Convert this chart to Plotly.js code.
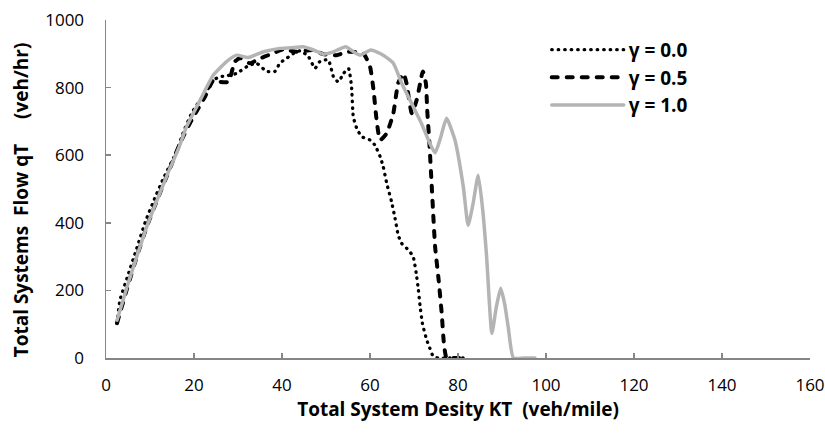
<!DOCTYPE html>
<html>
<head>
<meta charset="utf-8">
<script src="https://cdn.plot.ly/plotly-3.0.1.min.js"></script>
<style>html,body{margin:0;padding:0;background:#fff;}#chart{width:825px;height:435px;}</style>
</head>
<body>
<div id="chart"></div>
<script>
// Series names
const seriesNames = ["γ = 0.0", "γ = 0.5", "γ = 1.0"];

// γ = 0.0 (dotted)
const k00 = [2.5, 3.2, 5, 7, 9, 11, 13, 16, 17.5, 19.5, 21.5, 22.9, 24.4, 25.9, 27.5, 29.7, 32, 34.2, 36.5, 38.4, 39.5, 41.1, 42.6, 44.1, 46, 47.5, 48.6, 50.5, 51.7, 52.8, 54, 55.1, 55.8, 56.2, 57, 58.1, 60, 61.1, 62.3, 63, 63.8, 64.9, 65.7, 66.4, 67.2, 68.7, 69.8, 70.5, 71, 71.4, 71.9, 72.9, 73.6, 74.4, 75.5, 78, 81.8];
const q00 = [103, 172, 245, 325, 405, 470, 530, 610, 665, 725, 765, 790, 822, 832, 835, 842, 862, 872, 848, 848, 872, 887, 901, 909, 892, 857, 877, 882, 832, 817, 842, 857, 803, 714, 679, 655, 645, 630, 596, 566, 517, 462, 413, 364, 339, 320, 300, 251, 201, 152, 103, 53, 29, 4, 0, 0, 0];

// γ = 0.5 (dashed)
const k05 = [2.5, 5, 7, 9.3, 12, 14.5, 16.8, 19.5, 22.5, 24.4, 25.9, 27.8, 29.3, 30.5, 32.7, 34.8, 36.9, 40.3, 43.3, 47.1, 49.4, 52.4, 55.1, 58.5, 60, 60.8, 61.5, 62.3, 63.8, 65.3, 66.4, 67.6, 68.3, 69.5, 70.6, 71.4, 72, 72.7, 73, 73.5, 74, 74.8, 75.6, 76.3, 76.8, 77.4, 79, 81.5];
const q05 = [103, 215, 300, 390, 480, 560, 635, 705, 773, 822, 817, 817, 877, 887, 872, 885, 896, 913, 906, 911, 899, 896, 906, 901, 862, 793, 704, 645, 665, 724, 813, 842, 813, 724, 763, 813, 848, 813, 734, 635, 517, 329, 231, 132, 43, 0, 0, 0];

// γ = 1.0 (solid grey)
const k10 = [2.5, 5, 7, 9.3, 12, 14, 16.5, 18.3, 21.4, 24.4, 27.4, 29.7, 32.3, 35.8, 39.5, 42, 44.8, 47, 49.4, 51.5, 54.5, 56.2, 57.7, 60.2, 63, 65.3, 67.2, 69.1, 71.7, 73.6, 74.8, 76, 77.4, 79.3, 81.2, 82.3, 83.4, 84.6, 85.6, 86.5, 87.7, 88.7, 89.7, 90.6, 91.4, 92.6, 95, 97.5];
const q10 = [112, 220, 300, 390, 480, 545, 620, 684, 763, 837, 877, 896, 889, 906, 916, 918, 921, 912, 899, 905, 921, 906, 896, 911, 896, 872, 813, 763, 694, 635, 607, 650, 709, 645, 507, 393, 455, 541, 440, 300, 73, 150, 206, 160, 93, 0, 0, 0];

// Axis ticks
const xTicks = [0, 20, 40, 60, 80, 100, 120, 140, 160];
const yTicks = [0, 200, 400, 600, 800, 1000];

const FONT = "Open Sans, Lato, sans-serif";

const traces = [
  {x: k00, y: q00, name: seriesNames[0], type: "scatter", mode: "lines",
   line: {color: "#000000", width: 3.3, dash: "0.5px,6px", shape: "spline", smoothing: 0.5}},
  {x: k05, y: q05, name: seriesNames[1], type: "scatter", mode: "lines",
   line: {color: "#000000", width: 4, dash: "6px,9px", shape: "spline", smoothing: 0.5}},
  {x: k10, y: q10, name: seriesNames[2], type: "scatter", mode: "lines",
   line: {color: "#b4b4b4", width: 3.5, shape: "spline", smoothing: 0.5}}
];

const layout = {
  width: 825, height: 435,
  margin: {l: 106, r: 15, t: 20, b: 77},
  paper_bgcolor: "#ffffff", plot_bgcolor: "#ffffff",
  font: {family: FONT, size: 17, color: "#000000"},
  showlegend: true,
  legend: {x: 0.626, y: 0.968, xanchor: "left", yanchor: "top",
           font: {family: FONT, size: 19, color: "#000000", weight: "bold"},
           bgcolor: "rgba(0,0,0,0)", itemwidth: 72},
  xaxis: {
    range: [0, 160], tickvals: xTicks, ticktext: xTicks.map(String),
    showgrid: false, zeroline: false, showline: true, linecolor: "#868686", linewidth: 1.5,
    ticks: "inside", ticklen: 5, tickcolor: "#868686", tickwidth: 1.5,
    tickfont: {family: FONT, size: 17, color: "#000000"}, ticklabelstandoff: 11,
    title: {text: "Total System Desity KT \u00a0(veh/mile)", font: {family: FONT, size: 19, color: "#000000", weight: "bold"}, standoff: 3}
  },
  yaxis: {
    range: [0, 1000], tickvals: yTicks, ticktext: yTicks.map(String),
    showgrid: false, zeroline: false, showline: true, linecolor: "#868686", linewidth: 1.5,
    ticks: "inside", ticklen: 5, tickcolor: "#868686", tickwidth: 1.5,
    tickfont: {family: FONT, size: 17, color: "#000000"}, ticklabelstandoff: 17,
    title: {text: "Total Systems \u00a0Flow qT \u00a0\u00a0\u00a0\u00a0(veh/hr)", font: {family: FONT, size: 19, color: "#000000", weight: "bold"}, standoff: 11}
  }
};

Plotly.newPlot("chart", traces, layout, {displayModeBar: false, staticPlot: true}).then(function (gd) {
  gd.querySelectorAll("path.js-line").forEach(function (p) {
    p.style.strokeLinecap = "round";
  });
  const yt = gd.querySelector(".g-ytitle");
  if (yt) yt.setAttribute("transform", "translate(0,11)");
});
</script>
</body>
</html>
